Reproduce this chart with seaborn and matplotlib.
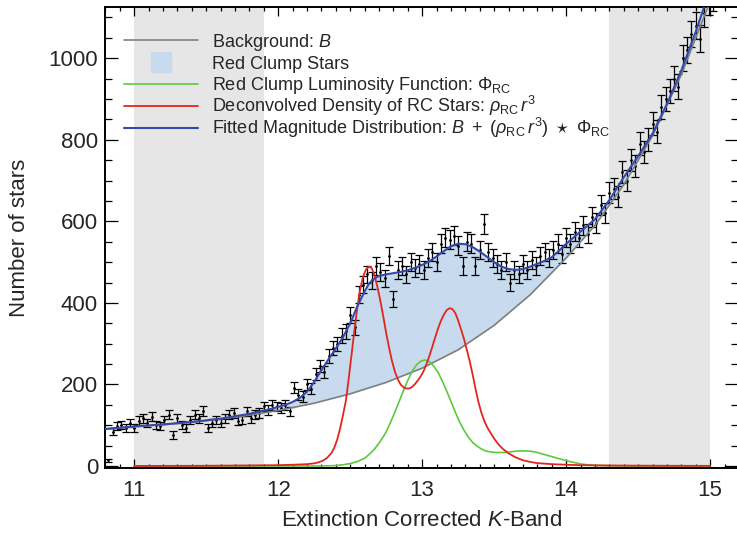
import numpy as np
import matplotlib
matplotlib.use("Agg")
import matplotlib.pyplot as plt
import seaborn as sns
from matplotlib.lines import Line2D
from matplotlib.ticker import MultipleLocator

# histogram of stars, bins of 0.03 mag starting at 10.82
bin_start = 10.82
bin_width = 0.03
counts = [14, 84, 97, 101, 93, 105, 93, 111, 117, 105, 121, 101, 97, 113, 126, 76,
          117, 101, 93, 113, 126, 117, 135, 93, 105, 113, 105, 117, 126, 130, 111, 113,
          134, 117, 126, 130, 146, 138, 150, 146, 142, 150, 134, 192, 175, 170, 200, 190,
          225, 245, 230, 270, 290, 300, 320, 330, 370, 340, 420, 445, 470, 455, 490, 475,
          460, 515, 409, 480, 490, 470, 500, 485, 495, 480, 510, 525, 500, 545, 560, 555,
          565, 540, 491, 550, 545, 491, 530, 594, 525, 510, 495, 480, 500, 450, 480, 470,
          495, 480, 505, 490, 515, 525, 510, 530, 545, 520, 560, 545, 575, 560, 590, 570,
          610, 595, 640, 620, 670, 680, 660, 720, 700, 750, 735, 790, 770, 800, 840, 820,
          880, 900, 920, 950, 930, 1000, 1020, 1060, 1080, 1048, 1110, 1140, 1150, 1180]

# background B
bg_x = [10.8, 11.0, 11.25, 11.5, 11.75, 12.0, 12.25, 12.5, 12.75, 13.0, 13.25, 13.5,
        13.75, 14.0, 14.2, 14.4, 14.6, 14.8, 15.0, 15.2]
bg_y = [90, 96, 103, 111, 122, 136, 154, 177, 205, 240, 285, 345,
        420, 510, 590, 690, 810, 960, 1140, 1340]

# fitted magnitude distribution
fit_x = [10.8, 11.0, 11.2, 11.4, 11.6, 11.8, 11.95, 12.05, 12.1, 12.15, 12.2, 12.25,
         12.3, 12.35, 12.4, 12.45, 12.5, 12.55, 12.6, 12.63, 12.66, 12.7, 12.75, 12.8,
         12.85, 12.9, 12.95, 13.0, 13.05, 13.1, 13.15, 13.2, 13.25, 13.3, 13.35, 13.4,
         13.45, 13.5, 13.55, 13.6, 13.65, 13.7, 13.75, 13.8, 13.85, 13.9, 13.95, 14.0,
         14.1, 14.2, 14.3, 14.4, 14.5, 14.6, 14.7, 14.8, 14.9, 15.0, 15.1, 15.2]
fit_y = [91, 97, 102, 108, 116, 128, 140, 150, 157, 167, 182, 206,
         235, 262, 288, 316, 350, 392, 428, 447, 458, 466, 470, 473,
         476, 480, 486, 493, 502, 514, 527, 539, 545, 544, 537, 526,
         513, 500, 489, 483, 481, 483, 489, 496, 503, 512, 528, 545,
         575, 605, 652, 708, 760, 815, 888, 970, 1065, 1170, 1280, 1400]

# deconvolved density of RC stars
rho_x = [11.0, 11.5, 12.0, 12.1, 12.2, 12.25, 12.28, 12.31, 12.34, 12.37, 12.39, 12.41,
         12.43, 12.45, 12.47, 12.49, 12.51, 12.53, 12.55, 12.57, 12.59, 12.61, 12.63, 12.65,
         12.67, 12.69, 12.71, 12.73, 12.75, 12.77, 12.79, 12.81, 12.83, 12.85, 12.87, 12.89,
         12.91, 12.93, 12.95, 12.97, 12.99, 13.01, 13.03, 13.05, 13.07, 13.09, 13.11, 13.13,
         13.15, 13.17, 13.19, 13.21, 13.23, 13.25, 13.27, 13.29, 13.31, 13.33, 13.35, 13.37,
         13.39, 13.41, 13.43, 13.45, 13.47, 13.5, 13.53, 13.56, 13.6, 13.65, 13.7, 13.75,
         13.8, 13.9, 14.0, 14.1, 14.2, 14.4, 14.7, 15.0]
rho_y = [0, 0.5, 2, 3, 4.5, 6.5, 9, 13, 20, 32, 45, 65,
         92, 125, 160, 215, 275, 335, 390, 435, 465, 482, 489, 485,
         466, 438, 404, 366, 326, 290, 258, 232, 213, 200, 193, 190,
         190, 194, 201, 210, 220, 233, 250, 270, 292, 315, 337, 356,
         371, 382, 387, 385, 375, 357, 335, 312, 285, 257, 225, 190,
         158, 132, 112, 96, 84, 67, 53, 42, 31, 21, 14, 10,
         7, 4.5, 3, 2, 1.5, 1, 0.5, 0.3]

# red clump luminosity function
phi_x = [11.0, 12.3, 12.4, 12.45, 12.5, 12.55, 12.6, 12.64, 12.67, 12.7, 12.73, 12.75,
         12.78, 12.81, 12.84, 12.87, 12.9, 12.93, 12.96, 12.99, 13.02, 13.05, 13.08, 13.11,
         13.14, 13.17, 13.2, 13.23, 13.26, 13.29, 13.32, 13.35, 13.38, 13.41, 13.44, 13.48,
         13.52, 13.56, 13.6, 13.64, 13.68, 13.72, 13.76, 13.8, 13.85, 13.9, 13.95, 14.0,
         14.05, 14.1, 14.15, 14.2, 14.3, 14.5, 15.0]
phi_y = [0, 0, 1, 3, 6, 11, 19, 31, 42, 56, 72, 84,
         107, 132, 158, 185, 210, 232, 248, 257, 260, 256, 245, 230,
         208, 184, 158, 132, 108, 88, 71, 58, 49, 42, 37, 34,
         33, 33, 34, 36, 37, 37, 36, 33, 28, 23, 18, 13,
         9, 5, 3, 1.5, 0.5, 0, 0]

sns.set_style("ticks")
plt.rcParams['font.family'] = ['Liberation Sans', 'DejaVu Sans']
plt.rcParams['mathtext.fontset'] = 'custom'
plt.rcParams['mathtext.rm'] = 'Liberation Sans'
plt.rcParams['mathtext.it'] = 'Liberation Sans:italic'
plt.rcParams['mathtext.bf'] = 'Liberation Sans:bold'

fig = plt.figure(figsize=(7.37, 5.36), dpi=100)
ax = fig.add_axes([105 / 737, 68.3 / 536, 632.5 / 737, 460.4 / 536])

# excluded magnitude ranges
ax.axvspan(11.0, 11.9, color='#e6e6e6', lw=0, zorder=0)
ax.axvspan(14.3, 15.0, color='#e6e6e6', lw=0, zorder=0)

# red clump region between background and fit
ax.fill_between(fit_x, np.interp(fit_x, bg_x, bg_y), fit_y, color='#c8dbee', lw=0, zorder=1)

centers = bin_start + bin_width * np.arange(len(counts))
counts = np.array(counts, dtype=float)
ax.errorbar(centers, counts, yerr=np.sqrt(counts), fmt='.', ms=2, color='black',
            ecolor='black', elinewidth=0.9, capsize=3, capthick=0.9, zorder=3)

sns.lineplot(x=bg_x, y=bg_y, ax=ax, color='#7f7f7f', lw=1.2, sort=False, zorder=4)
sns.lineplot(x=phi_x, y=phi_y, ax=ax, color='#5cc93e', lw=1.2, sort=False, zorder=5)
sns.lineplot(x=rho_x, y=rho_y, ax=ax, color='#e3261d', lw=1.3, sort=False, zorder=6)
sns.lineplot(x=fit_x, y=fit_y, ax=ax, color='#3549a8', lw=1.5, sort=False, zorder=7)

ax.set_xlim(10.797, 15.19)
ax.set_ylim(-4.2, 1125)
ax.xaxis.set_major_locator(MultipleLocator(1))
ax.xaxis.set_minor_locator(MultipleLocator(0.1))
ax.yaxis.set_major_locator(MultipleLocator(200))
ax.yaxis.set_minor_locator(MultipleLocator(50))
ax.tick_params(axis='both', which='both', direction='in', top=True, right=True,
               labelsize=16, width=0.9, color='black')
ax.tick_params(axis='x', which='major', length=6.3, pad=9)
ax.tick_params(axis='x', which='minor', length=3.1)
ax.tick_params(axis='y', which='major', length=9.1, pad=5)
ax.tick_params(axis='y', which='minor', length=4.8)
for s in ax.spines.values():
    s.set_linewidth(1.4)
    s.set_color('black')

ax.set_xlabel('Extinction Corrected $K$-Band', fontsize=16, labelpad=6)
ax.set_ylabel('Number of stars', fontsize=16, labelpad=13)

# legend: one row per entry so rows are evenly spaced
handles = [Line2D([], [], color='#7f7f7f', lw=1.2),
           Line2D([], [], marker='s', ms=15, ls='none', color='#c8dbee'),
           Line2D([], [], color='#5cc93e', lw=1.2),
           Line2D([], [], color='#e3261d', lw=1.3),
           Line2D([], [], color='#3549a8', lw=1.5)]
labels = ['Background: $B$',
          'Red Clump Stars',
          r'Red Clump Luminosity Function: $\Phi_{\mathrm{RC}}$',
          r'Deconvolved Density of RC Stars: $\rho_{\mathrm{RC}}\,r^3$',
          r'Fitted Magnitude Distribution: $B\ +\ (\rho_{\mathrm{RC}}\,r^3)\ \star\ \Phi_{\mathrm{RC}}$']
row_y = [0.9246, 0.8768, 0.8301, 0.7856, 0.7378]
for i, (h, lab, ry) in enumerate(zip(handles, labels, row_y)):
    leg = ax.legend([h], [lab], loc='center left', bbox_to_anchor=(0.03, ry), frameon=False,
                    fontsize=13, handlelength=4.1, handletextpad=0.8,
                    borderpad=0, borderaxespad=0)
    if i < len(handles) - 1:
        ax.add_artist(leg)

fig.savefig('out.png', dpi=100)
